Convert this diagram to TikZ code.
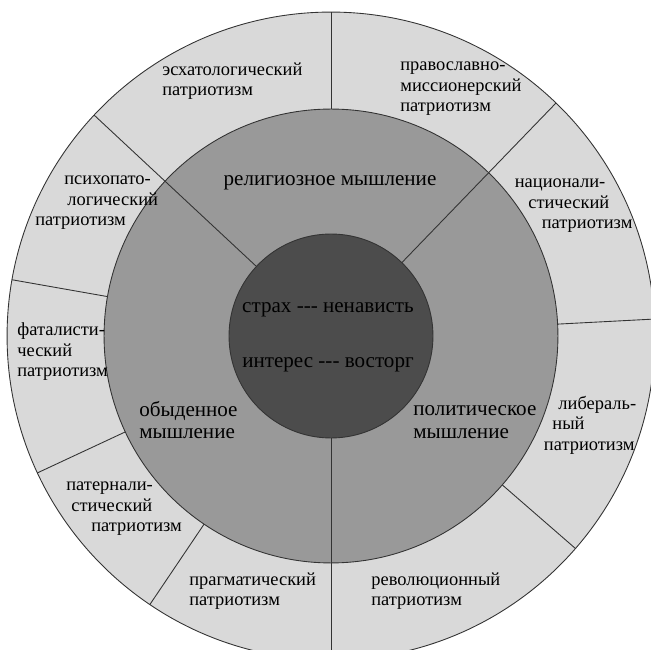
\documentclass[tikz,border=0pt]{standalone}
\usepackage{fontspec}
\setmainfont{Liberation Serif}
\definecolor{ringlight}{gray}{0.85}
\definecolor{ringmid}{gray}{0.6}
\definecolor{ringdark}{gray}{0.3}
\tikzset{
  ring/.style={draw=black!80, line width=0.5pt, circle, inner sep=0pt, outer sep=0pt},
  sep/.style={draw=black!80, line width=0.5pt},
  patr/.style={font=\fontsize{10.5}{11.7}\selectfont, align=left, anchor=west, inner sep=0pt},
  mysl/.style={font=\fontsize{12}{12.8}\selectfont, align=left, inner sep=0pt}
}
\begin{document}
\begin{tikzpicture}[scale=0.02]
\useasboundingbox (-331,-314) rectangle (320,336);
\clip (-331,-314) rectangle (320,336);
\node[ring, fill=ringlight, minimum size=12.96cm] (outer) at (0,0) {};
\node[ring, fill=ringmid, minimum size=9.08cm] (middle) at (0,0) {};
\node[ring, fill=ringdark, minimum size=4.08cm] (inner) at (0,0) {};

\foreach \a in {46,137,270} \path[sep] (inner.\a) -- (outer.\a);
\foreach \a in {3,90,170,205,236,319} \path[sep] (middle.\a) -- (outer.\a);

\node[mysl, align=center] (relig) at (-1,153) {религиозное мышление};
\node[mysl, anchor=west] (obyd) at (-192,-84) {обыденное\\мышление};
\node[mysl, anchor=west] (polit) at (82,-86) {политическое\\мышление};
\node[mysl, align=center] (emo) at (-3,-1.5) {страх -{}-{}- ненависть\\[0.64cm]интерес -{}-{}- восторг};

\node[patr] (eshat) at (-169,255) {эсхатологический\\патриотизм};
\node[patr] (pravosl) at (69,247) {православно-\\миссионерский\\патриотизм};
\node[patr] (nacion) at (183.5,130) {национали-\\\hspace*{0.27cm}стический\\\hspace*{0.54cm}патриотизм};
\node[patr] (liber) at (212.6,-89) {\hspace*{0.29cm}либераль-\\\hspace*{0.17cm}ный\\патриотизм};
\node[patr] (psiho) at (-296,133) {\hspace*{0.58cm}психопато-\\\hspace*{0.64cm}логический\\патриотизм};
\node[patr] (fatal) at (-314,-16) {фаталисти-\\ческий\\патриотизм};
\node[patr] (patern) at (-265,-173) {патернали-\\\hspace*{0.1cm}стический\\\hspace*{0.5cm}патриотизм};
\node[patr] (pragm) at (-142,-255) {прагматический\\патриотизм};
\node[patr] (revol) at (40,-255) {революционный\\патриотизм};
\end{tikzpicture}
\end{document}
